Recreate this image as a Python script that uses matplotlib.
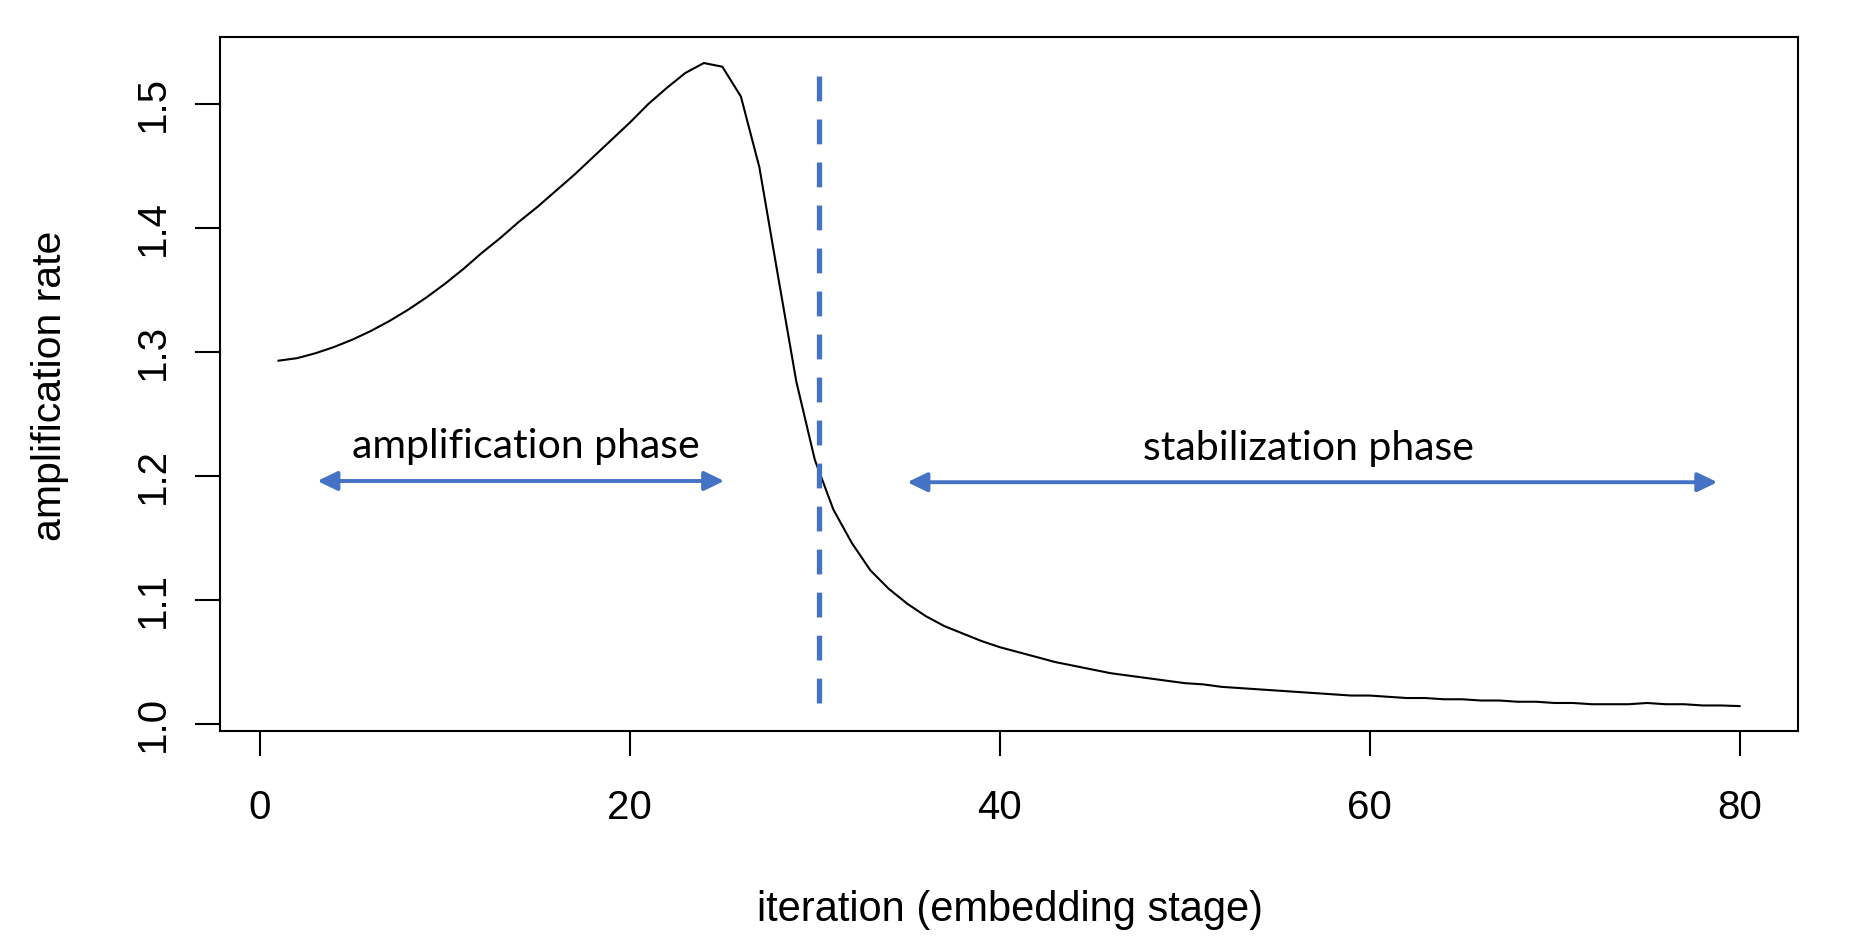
import matplotlib.pyplot as plt

# values
iteration = list(range(1, 81))
rate = [1.293, 1.295, 1.299, 1.304, 1.310, 1.317, 1.325, 1.334, 1.344, 1.355,
        1.367, 1.380, 1.392, 1.405, 1.417, 1.430, 1.443, 1.457, 1.471, 1.485,
        1.500, 1.513, 1.525, 1.533, 1.530, 1.506, 1.449, 1.362, 1.276, 1.213,
        1.173, 1.146, 1.124, 1.109, 1.097, 1.087, 1.079, 1.073, 1.067, 1.062,
        1.058, 1.054, 1.050, 1.047, 1.044, 1.041, 1.039, 1.037, 1.035, 1.033,
        1.032, 1.030, 1.029, 1.028, 1.027, 1.026, 1.025, 1.024, 1.023, 1.023,
        1.022, 1.021, 1.021, 1.020, 1.020, 1.019, 1.019, 1.018, 1.018, 1.017,
        1.017, 1.016, 1.016, 1.016, 1.017, 1.016, 1.016, 1.015, 1.015, 1.0145]

x_ticks = [0, 20, 40, 60, 80]
y_ticks = [1.0, 1.1, 1.2, 1.3, 1.4, 1.5]
y_tick_labels = ['1.0', '1.1', '1.2', '1.3', '1.4', '1.5']

split_x = 30.22
split_y = (1.017, 1.532)
phases = ['amplification phase', 'stabilization phase']
phase_arrows = [(3.1, 25.1, 1.196), (35.0, 78.8, 1.195)]
phase_text = [(14.4, 1.224), (56.7, 1.222)]

blue = '#4472C4'
plt.rcParams['font.family'] = ['Liberation Sans', 'DejaVu Sans']

fig = plt.figure(figsize=(18.54, 9.36), dpi=100)
ax = fig.add_axes([0.1187, 0.219, 0.8511, 0.7415])

ax.plot(iteration, rate, color='black', lw=1.5)
ax.plot([split_x, split_x], split_y, color=blue, lw=3.8, dashes=(4.7, 3.45))

for (x0, x1, y), (tx, ty), name in zip(phase_arrows, phase_text, phases):
    ax.annotate('', xy=(x1, y), xytext=(x0, y),
                arrowprops=dict(arrowstyle='<|-|>,head_length=1.2,head_width=0.58',
                                color=blue, lw=2.8, shrinkA=0, shrinkB=0))
    ax.text(tx, ty, name, ha='center', va='center', fontsize=29.5,
            family=['Lato', 'DejaVu Sans'])

ax.set_xlim(-2.16, 83.16)
ax.set_ylim(0.9944, 1.554)
ax.set_xticks(x_ticks)
ax.set_yticks(y_ticks)
ax.set_yticklabels(y_tick_labels, rotation=90, va='center')
ax.tick_params(direction='out', length=18, width=1.5, labelsize=29)
ax.tick_params(axis='x', pad=24)
ax.tick_params(axis='y', pad=17)
for s in ax.spines.values():
    s.set_linewidth(1.5)

fig.text(1010 / 1854, 1 - 910 / 936, 'iteration (embedding stage)',
         ha='center', va='center', fontsize=30)
fig.text(50 / 1854, 1 - 386 / 936, 'amplification rate',
         ha='center', va='center', rotation=90, fontsize=29.5)

fig.savefig('out.png', dpi=100)
